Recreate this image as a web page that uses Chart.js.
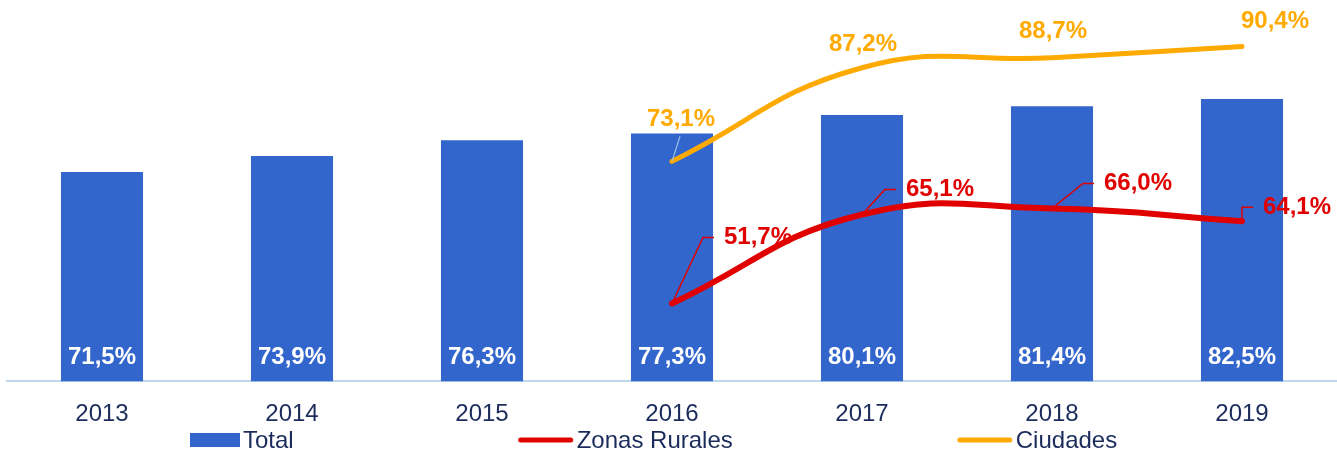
<!DOCTYPE html>
<html>
<head>
<meta charset="utf-8">
<script src="https://cdn.jsdelivr.net/npm/chart.js@4"></script>
<style>
  html, body { margin: 0; padding: 0; background: #fff; }
  #wrap { width: 1337px; height: 450px; position: relative; }
</style>
</head>
<body>
<div id="wrap"><canvas id="accessChart"></canvas></div>
<script>
// data
const years = ["2013", "2014", "2015", "2016", "2017", "2018", "2019"];
const total = [71.5, 73.9, 76.3, 77.3, 80.1, 81.4, 82.5];
const rurales = [null, null, null, 51.7, 65.1, 66.0, 64.1];
const ciudades = [null, null, null, 73.1, 87.2, 88.7, 90.4];

const BLUE = "#3366CC";
const RED = "#E00000";
const ORANGE = "#FFAA00";
const NAVY = "#1B2C5C";
const FONT = "'Liberation Sans', Arial, sans-serif";

// label placement, offset of the label centre from its point (px)
const ciudadesLabelOffsets = [null, null, null, [9, -42], [1, -23], [1, -26], [33, -25]];
const ruralesLabelOffsets = [null, null, null, [86, -66], [78, -25], [86, -25], [55, -14]];

function fmt(v) {
    return v.toFixed(1).replace(".", ",") + "%";
}

const labelPlugin = {
    id: "valueLabels",
    afterDatasetsDraw(chart) {
        const c = chart.ctx;
        const bottom = chart.chartArea.bottom;
        c.save();
        c.font = "bold 24px " + FONT;
        c.textBaseline = "middle";
        c.textAlign = "center";

        // bar values, white, near the bottom of each bar
        const barMeta = chart.getDatasetMeta(0);
        barMeta.data.forEach(function (bar, i) {
            c.fillStyle = "#FFFFFF";
            c.fillText(fmt(total[i]), bar.x, bottom - 24);
        });

        // Ciudades
        const cMeta = chart.getDatasetMeta(2);
        cMeta.data.forEach(function (pt, i) {
            if (ciudades[i] === null) return;
            const off = ciudadesLabelOffsets[i];
            const lx = pt.x + off[0];
            const ly = pt.y + off[1];
            if (i === 3) {
                c.strokeStyle = "#9DC3E6";
                c.lineWidth = 1.2;
                c.beginPath();
                c.moveTo(pt.x, pt.y);
                c.lineTo(lx - 1, ly + 17);
                c.stroke();
            }
            c.fillStyle = ORANGE;
            c.fillText(fmt(ciudades[i]), lx, ly);
        });

        // Zonas Rurales, with leader lines
        const rMeta = chart.getDatasetMeta(1);
        rMeta.data.forEach(function (pt, i) {
            if (rurales[i] === null) return;
            const off = ruralesLabelOffsets[i];
            const txt = fmt(rurales[i]);
            const lx = pt.x + off[0];
            const ly = pt.y + off[1];
            const w = c.measureText(txt).width;
            const left = lx - w / 2;
            c.strokeStyle = RED;
            c.lineWidth = 1.5;
            c.beginPath();
            c.moveTo(pt.x, pt.y);
            c.lineTo(left - 21, ly);
            c.lineTo(left - 10, ly);
            c.stroke();
            c.fillStyle = RED;
            c.fillText(txt, lx, ly);
        });
        c.restore();
    },
    afterDraw(chart) {
        // legend, spread out like the original
        const c = chart.ctx;
        const items = [
            { text: "Total", color: BLUE, type: "box" },
            { text: "Zonas Rurales", color: RED, type: "line" },
            { text: "Ciudades", color: ORANGE, type: "line" }
        ];
        const y = 440;
        let x = 190;
        c.save();
        c.font = "24px " + FONT;
        c.textBaseline = "middle";
        c.textAlign = "left";
        items.forEach(function (it) {
            let mw;
            if (it.type === "box") {
                mw = 50;
                c.fillStyle = it.color;
                c.fillRect(x, y - 7, mw, 14);
            } else {
                mw = 56;
                c.strokeStyle = it.color;
                c.lineWidth = 5;
                c.lineCap = "round";
                c.beginPath();
                c.moveTo(x + 3, y);
                c.lineTo(x + mw - 3, y);
                c.stroke();
            }
            c.fillStyle = NAVY;
            c.fillText(it.text, x + mw + 3, y + 1);
            x += mw + 3 + c.measureText(it.text).width + 224;
        });
        c.restore();
    }
};

document.addEventListener("DOMContentLoaded", function () {
    const ctx = document.getElementById("accessChart").getContext("2d");

    new Chart(ctx, {
        type: "bar",
        data: {
            labels: years,
            datasets: [
                {
                    label: "Total",
                    data: total,
                    backgroundColor: BLUE,
                    categoryPercentage: 1,
                    barPercentage: 0.432,
                    order: 2
                },
                {
                    type: "line",
                    label: "Zonas Rurales",
                    data: rurales,
                    borderColor: RED,
                    borderWidth: 6,
                    borderCapStyle: "round",
                    tension: 0.45,
                    pointRadius: 0,
                    fill: false,
                    order: 1
                },
                {
                    type: "line",
                    label: "Ciudades",
                    data: ciudades,
                    borderColor: ORANGE,
                    borderWidth: 5,
                    borderCapStyle: "round",
                    tension: 0.45,
                    pointRadius: 0,
                    fill: false,
                    order: 1
                }
            ]
        },
        options: {
            responsive: true,
            maintainAspectRatio: false,
            animation: false,
            layout: {
                padding: { left: 7, right: 0, top: 0, bottom: 2 }
            },
            plugins: {
                legend: { display: false },
                tooltip: { enabled: false }
            },
            scales: {
                x: {
                    grid: { display: false, drawTicks: false },
                    border: { color: "#BDD7EE", width: 2 },
                    ticks: {
                        color: NAVY,
                        font: { family: FONT, size: 24 },
                        padding: 19
                    }
                },
                y: {
                    display: false,
                    min: 40,
                    max: 97.4
                }
            }
        },
        plugins: [labelPlugin]
    });
});
</script>
</body>
</html>
